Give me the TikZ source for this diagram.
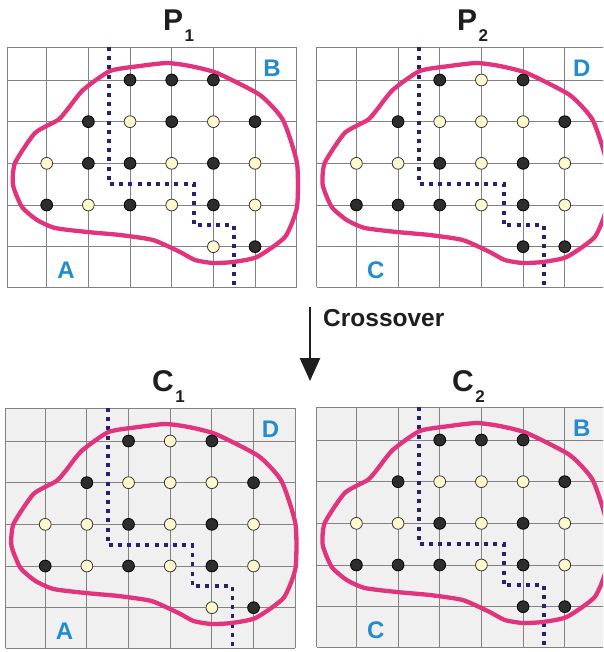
\documentclass[tikz,border=0pt]{standalone}
\usepackage{fontspec}
\setmainfont{Liberation Sans}
\usetikzlibrary{arrows.meta}
\definecolor{blobpink}{RGB}{225,52,125}
\definecolor{cutnavy}{RGB}{42,32,110}
\definecolor{lblblue}{RGB}{35,140,205}
\definecolor{panelgray}{RGB}{240,240,240}
\definecolor{gridgray}{RGB}{130,130,130}
\definecolor{dotdark}{RGB}{45,45,45}
\definecolor{dotpale}{RGB}{255,249,205}
\definecolor{dotedge}{RGB}{55,55,55}
\definecolor{titlegray}{RGB}{30,30,30}
\tikzset{
  gridline/.style={draw=gridgray, line width=0.9pt},
  blob/.style={draw=blobpink, line width=4.3pt, line join=round},
  cutline/.style={draw=cutnavy, line width=3.8pt, dash pattern=on 4pt off 5.2pt},
  bdot/.style={circle, draw=black, line width=0.8pt, fill=dotdark, minimum size=11.8pt, inner sep=0pt},
  wdot/.style={circle, draw=dotedge, line width=0.8pt, fill=dotpale, minimum size=11.8pt, inner sep=0pt},
  lbl/.style={text=lblblue, font=\bfseries\fontsize{24}{24}\selectfont, inner sep=0pt},
  ttl/.style={anchor=base west, inner sep=0pt, text=titlegray, font=\bfseries\fontsize{30}{30}\selectfont},
}
\newcommand{\subnum}[1]{\kern1.5pt\lower11pt\hbox{\fontsize{17}{17}\selectfont #1}}
% #1 name, #2 shift, #3 background, #4 dot rows, #5 top-right label, #6 bottom-left label
\newcommand{\gapanel}[6]{%
  \begin{scope}[shift={(#2)}]
    \fill[#3] (0,0) rectangle (289.7,240.3);
    \foreach \gx in {0,39.7,81.37,123.03,164.7,206.37,248.03,289.7}
      \draw[gridline] (\gx,0) -- (\gx,240.3);
    \foreach \gy in {0,33,74.67,116.33,158,199.67,240.3}
      \draw[gridline] (0,\gy) -- (289.7,\gy);
    \draw[cutline] (102.2,0) -- (102.2,137.2) -- (187,137.2) -- (187,178.3) -- (227,178.3) -- (227,240.3);
    \draw[blob] plot[smooth cycle, tension=0.35] coordinates {
      (103,24) (133,19) (160,16) (183,19) (210,26) (253,48) (276,73) (290,116)
      (290,160) (278,190) (250,210) (226,215) (206,216) (188,213) (173,205)
      (146,193) (113,188) (80,185) (48,181) (30,173) (15,160) (6,138) (8,116)
      (28,86) (51,73) (60,63) (76,43)};
    \foreach \rowlist [count=\j] in {#4} {
      \foreach \t [count=\k] in \rowlist {
        \if b\t \node[bdot] (#1-\j-\k) at ({39.7+41.67*(\k-1)},{33+41.67*(\j-1)}) {};\fi
        \if w\t \node[wdot] (#1-\j-\k) at ({39.7+41.67*(\k-1)},{33+41.67*(\j-1)}) {};\fi
      }
    }
    \node[lbl] (#1-tr) at (265,21.5) {#5};
    \node[lbl] (#1-bl) at (59,223) {#6};
  \end{scope}}
\begin{document}
\begin{tikzpicture}[x=1pt,y=-1pt]
  \useasboundingbox (0,0) rectangle (603,652);
  \clip (0,0) rectangle (603,652);
  \fill[white] (0,0) rectangle (603,652);

  \gapanel{p1}{7,47}{white}{{n,n,b,b,b,n},{n,b,w,b,w,b},{w,b,b,w,b,w},{b,w,b,w,b,w},{n,n,n,n,w,b}}{B}{A}
  \gapanel{p2}{316.7,47}{white}{{n,n,b,w,b,n},{n,b,w,w,w,b},{w,w,b,w,b,w},{b,b,b,w,b,w},{n,n,n,n,b,b}}{D}{C}
  \gapanel{c1}{5.5,408}{panelgray}{{n,n,b,w,b,n},{n,b,w,w,w,b},{w,w,b,w,b,w},{b,w,b,w,b,w},{n,n,n,n,w,b}}{D}{A}
  \gapanel{c2}{316.7,407}{panelgray}{{n,n,b,b,b,n},{n,b,w,w,w,b},{w,w,b,w,b,w},{b,b,b,w,b,w},{n,n,n,n,b,b}}{B}{C}

  \node[ttl] (p1-title) at (163,31) {P\subnum{1}};
  \node[ttl] (p2-title) at (457,31) {P\subnum{2}};
  \node[ttl] (c1-title) at (152,391) {C\subnum{1}};
  \node[ttl] (c2-title) at (452,391) {C\subnum{2}};

  \coordinate (arrtop) at (310,307);
  \coordinate (arrbot) at (310,381);
  \draw[titlegray, line width=2.6pt, -{Triangle[width=20pt,length=23pt]}] (arrtop) -- (arrbot);
  \node[anchor=base west, inner sep=0pt, text=titlegray, font=\bfseries\fontsize{24.5}{24.5}\selectfont] (xover) at (323,326.5) {Crossover};
\end{tikzpicture}
\end{document}
